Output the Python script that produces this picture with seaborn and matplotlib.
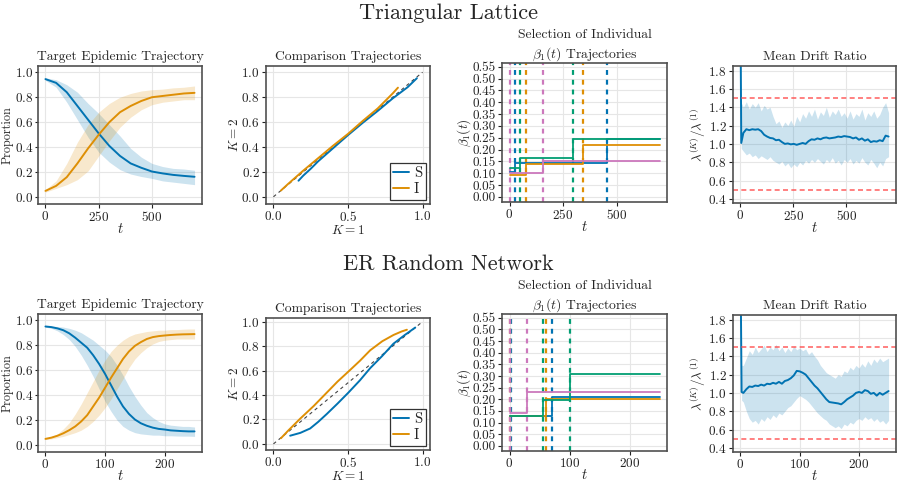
import numpy as np
import matplotlib
matplotlib.use("Agg")
import matplotlib.pyplot as plt
import seaborn as sns

# ── SETUP ─────────────────────────────────────────────────────────────────────
sns.set_theme(style="whitegrid", rc={
    "axes.edgecolor": "#505050",
    "axes.linewidth": 1.2,
    "grid.color": "#e6e6e6",
    "grid.linewidth": 0.8,
    "xtick.bottom": True,
    "ytick.left": True,
    "xtick.major.size": 3,
    "ytick.major.size": 3,
    "xtick.major.width": 0.8,
    "ytick.major.width": 0.8,
    "xtick.color": "#222222",
    "ytick.color": "#222222",
})
plt.rcParams["font.family"] = "cmr10"
plt.rcParams["mathtext.fontset"] = "cm"
plt.rcParams["axes.formatter.use_mathtext"] = True
plt.rcParams["axes.unicode_minus"] = False

pal = sns.color_palette("colorblind")
BLUE, ORANGE, GREEN, PINK = pal[0], pal[1], pal[2], pal[4]

# ── DATA: TRIANGULAR LATTICE ─────────────────────────────────────────────────
t_tri = [0, 50, 100, 150, 200, 250, 300, 350, 400, 450, 500, 550, 600, 650, 700]
S_tri = [.945, .915, .84, .73, .62, .51, .41, .33, .27, .235, .205, .19, .178, .17, .163]
S_tri_hi = [.955, .94, .90, .84, .75, .67, .58, .49, .39, .32, .27, .245, .23, .225, .215]
S_tri_lo = [.935, .88, .76, .62, .48, .36, .28, .22, .185, .165, .15, .13, .12, .11, .10]
I_tri = [.05, .09, .16, .27, .39, .50, .60, .68, .73, .77, .80, .81, .82, .83, .835]
I_tri_hi = [.06, .13, .27, .44, .58, .68, .75, .80, .83, .85, .86, .865, .875, .88, .89]
I_tri_lo = [.04, .07, .10, .14, .21, .33, .45, .56, .64, .70, .74, .76, .77, .78, .78]

cmpS_tri_x = [.168, .20, .25, .30, .40, .50, .60, .70, .80, .90, .962]
cmpS_tri_y = [.129, .17, .225, .285, .39, .495, .595, .69, .79, .88, .952]
cmpI_tri_x = [.05, .10, .20, .30, .40, .50, .60, .70, .80, .835]
cmpI_tri_y = [.05, .105, .21, .31, .41, .505, .61, .71, .83, .876]

# beta_1(t) step trajectories: change times, values, dashed change markers
beta_tri = {
    "blue":   ([0, 27, 454, 700], [0.105, 0.145, 0.243, 0.243], [27, 454]),
    "orange": ([0, 77, 341, 700], [0.092, 0.138, 0.220, 0.220], [77, 341]),
    "green":  ([0, 50, 296, 700], [0.120, 0.165, 0.245, 0.245], [50, 296]),
    "pink":   ([0, 157, 700], [0.100, 0.153, 0.153], [0, 157]),
}

td_tri = [0, 4] + list(range(14, 701, 14))
drift_tri = [2.6, 1.01,
             1.12, 1.16, 1.15, 1.16, 1.155, 1.16, 1.14, 1.10, 1.08, 1.065,
             1.06, 1.04, 1.045, 1.02, 1.00, 1.005, 0.995, 1.0, 0.99, 1.0,
             1.01, 1.0, 1.03, 1.05, 1.045, 1.06, 1.05, 1.065, 1.07, 1.06,
             1.065, 1.07, 1.08, 1.075, 1.085, 1.08, 1.075, 1.06, 1.07, 1.045,
             1.06, 1.035, 1.05, 1.02, 1.03, 1.025, 1.04, 1.03, 1.09, 1.08]
drift_tri_hi = [1.45, 1.45,
                1.40, 1.46, 1.38, 1.44, 1.40, 1.45, 1.36, 1.42, 1.38, 1.40,
                1.30, 1.22, 1.25, 1.18, 1.24, 1.20, 1.26, 1.19, 1.30, 1.24,
                1.33, 1.28, 1.36, 1.30, 1.38, 1.27, 1.35, 1.31, 1.40, 1.29,
                1.36, 1.32, 1.38, 1.30, 1.34, 1.28, 1.36, 1.27, 1.33, 1.30,
                1.38, 1.26, 1.34, 1.30, 1.36, 1.28, 1.32, 1.40, 1.45, 1.34]
drift_tri_lo = [0.95, 0.95,
                0.92, 0.88, 0.90, 0.86, 0.88, 0.84, 0.87, 0.85, 0.83, 0.86,
                0.82, 0.80, 0.78, 0.81, 0.76, 0.79, 0.74, 0.78, 0.75, 0.80,
                0.77, 0.82, 0.79, 0.83, 0.80, 0.84, 0.81, 0.78, 0.83, 0.80,
                0.85, 0.79, 0.82, 0.77, 0.83, 0.80, 0.84, 0.78, 0.82, 0.79,
                0.85, 0.80, 0.77, 0.83, 0.79, 0.74, 0.80, 0.76, 0.84, 0.86]

# ── DATA: ER RANDOM NETWORK ──────────────────────────────────────────────────
t_er = list(range(0, 251, 10))
S_er = [.95, .945, .935, .92, .895, .86, .82, .78, .72, .65, .57, .48, .39,
        .31, .25, .205, .175, .155, .14, .13, .125, .118, .115, .112, .11, .11]
S_er_hi = [.955, .952, .95, .945, .935, .92, .90, .87, .84, .80, .76, .71, .64,
           .56, .47, .39, .32, .26, .22, .19, .17, .16, .155, .15, .15, .145]
S_er_lo = [.945, .935, .915, .885, .845, .79, .72, .64, .55, .45, .35, .27, .20,
           .15, .12, .10, .09, .085, .08, .08, .075, .075, .073, .072, .072, .07]
I_er = [.05, .06, .075, .095, .12, .15, .19, .24, .31, .38, .46, .54, .615,
        .69, .75, .795, .825, .85, .865, .873, .878, .882, .885, .887, .888, .889]
I_er_hi = [.055, .07, .09, .13, .18, .25, .33, .42, .51, .60, .68, .75, .80,
           .84, .87, .89, .90, .91, .915, .92, .92, .925, .925, .928, .93, .93]
I_er_lo = [.045, .05, .06, .07, .085, .10, .12, .15, .19, .24, .30, .37, .45,
           .53, .62, .69, .74, .78, .81, .83, .84, .845, .85, .85, .85, .85]

cmpS_er_x = [.112, .18, .246, .30, .358, .43, .503, .58, .649, .73, .805, .88, .951]
cmpS_er_y = [.067, .09, .126, .18, .245, .33, .42, .52, .62, .72, .82, .89, .952]
cmpI_er_x = [.05, .10, .179, .27, .358, .43, .503, .58, .649, .73, .805, .86, .895]
cmpI_er_y = [.046, .11, .206, .31, .42, .51, .592, .68, .766, .84, .891, .92, .934]

beta_er = {
    "blue":   ([0, 70, 250], [0.130, 0.208, 0.208], [2, 70]),
    "orange": ([0, 61, 250], [0.130, 0.200, 0.200], [1, 61]),
    "green":  ([0, 56, 100, 250], [0.127, 0.198, 0.308, 0.308], [56, 100]),
    "pink":   ([0, 29, 250], [0.139, 0.233, 0.233], [1, 29]),
}

td_er = [0, 2] + list(range(5, 251, 5))
drift_er = [2.6, 1.01,
            1.0, 1.04, 1.07, 1.065, 1.08, 1.075, 1.09, 1.08, 1.10, 1.095,
            1.11, 1.10, 1.12, 1.10, 1.13, 1.14, 1.16, 1.19, 1.24, 1.235,
            1.22, 1.20, 1.16, 1.12, 1.08, 1.05, 1.01, 0.97, 0.93, 0.90,
            0.895, 0.89, 0.885, 0.875, 0.90, 0.93, 0.95, 0.97, 1.0, 1.01,
            1.0, 1.03, 1.02, 0.99, 1.0, 0.97, 1.0, 0.98, 1.0, 1.02]
drift_er_hi = [1.30, 1.30,
               1.30, 1.38, 1.46, 1.42, 1.50, 1.44, 1.48, 1.52, 1.45, 1.50,
               1.47, 1.53, 1.46, 1.50, 1.44, 1.49, 1.45, 1.51, 1.47, 1.49,
               1.46, 1.48, 1.42, 1.45, 1.40, 1.36, 1.30, 1.26, 1.22, 1.20,
               1.18, 1.16, 1.20, 1.18, 1.24, 1.22, 1.28, 1.25, 1.30, 1.27,
               1.32, 1.28, 1.35, 1.30, 1.37, 1.33, 1.38, 1.34, 1.36, 1.38]
drift_er_lo = [0.92, 0.92,
               0.90, 0.80, 0.72, 0.68, 0.70, 0.66, 0.72, 0.69, 0.74, 0.71,
               0.76, 0.73, 0.78, 0.76, 0.80, 0.84, 0.86, 0.90, 0.94, 0.97,
               0.95, 0.93, 0.90, 0.86, 0.82, 0.78, 0.75, 0.72, 0.70, 0.66,
               0.64, 0.62, 0.64, 0.61, 0.66, 0.64, 0.68, 0.66, 0.70, 0.72,
               0.70, 0.74, 0.71, 0.73, 0.69, 0.72, 0.68, 0.70, 0.66, 0.70]

colors = {"blue": BLUE, "orange": ORANGE, "green": GREEN, "pink": PINK}

TITLE_FS = 9.8
LABEL_FS = 9.5
TICK_FS = 9.5


# ── PANEL HELPERS ─────────────────────────────────────────────────────────────
def style_ax(ax, xpad=-1.5):
    ax.tick_params(labelsize=TICK_FS, pad=1.5)
    ax.xaxis.labelpad = xpad
    ax.yaxis.labelpad = 0
    for s in ax.spines.values():
        s.set_visible(True)


def panel_target(ax, t, S, Slo, Shi, I, Ilo, Ihi, xlim, xticks):
    ax.fill_between(t, Slo, Shi, color=BLUE, alpha=0.2, lw=0)
    ax.fill_between(t, Ilo, Ihi, color=ORANGE, alpha=0.2, lw=0)
    sns.lineplot(x=t, y=S, ax=ax, color=BLUE, lw=1.4)
    sns.lineplot(x=t, y=I, ax=ax, color=ORANGE, lw=1.4)
    ax.set_xlim(*xlim)
    ax.set_ylim(-0.055, 1.05)
    ax.set_xticks(xticks)
    ax.set_yticks([0, 0.2, 0.4, 0.6, 0.8, 1.0])
    ax.set_title("Target Epidemic Trajectory", fontsize=TITLE_FS, pad=4)
    ax.set_xlabel("$t$", fontsize=LABEL_FS + 1)
    ax.set_ylabel("Proportion", fontsize=8.8)
    style_ax(ax)
    # narrow left margin: tighter y ticks, label pinned just inside the canvas
    ax.tick_params(axis="y", pad=1, length=2.5)
    ax.yaxis.set_label_coords(-0.148, 0.5)


def panel_compare(ax, sx, sy, ix, iy, ylim):
    ax.plot([0, 1], [0, 1], ls=(0, (3, 3)), color="#444444", lw=0.8)
    sns.lineplot(x=sx, y=sy, ax=ax, color=BLUE, lw=1.4, label="S", sort=False)
    sns.lineplot(x=ix, y=iy, ax=ax, color=ORANGE, lw=1.4, label="I", sort=False)
    ax.set_xlim(-0.05, 1.05)
    ax.set_ylim(*ylim)
    ax.set_xticks([0, 0.5, 1.0])
    ax.set_yticks([0, 0.2, 0.4, 0.6, 0.8, 1.0])
    ax.set_title("Comparison Trajectories", fontsize=TITLE_FS, pad=4)
    ax.set_xlabel("$K=1$", fontsize=LABEL_FS)
    ax.set_ylabel("$K=2$", fontsize=LABEL_FS)
    leg = ax.legend(loc="lower right", fontsize=10.5, fancybox=False, framealpha=1,
                    handlelength=1.1, handletextpad=0.3, borderpad=0.25,
                    borderaxespad=0.3, labelspacing=0.15)
    leg.get_frame().set_edgecolor("#333333")
    leg.get_frame().set_linewidth(0.9)
    style_ax(ax, xpad=0)


def panel_beta(ax, beta, xlim, xticks):
    for name, (ts, vs, marks) in beta.items():
        for m in marks:
            ax.axvline(m, color=colors[name], ls=(0, (2.2, 2.2)), lw=1.6)
    for name, (ts, vs, marks) in beta.items():
        sns.lineplot(x=ts, y=vs, ax=ax, color=colors[name], lw=1.3,
                     drawstyle="steps-post")
    ax.set_xlim(*xlim)
    ax.set_ylim(-0.022, 0.566)
    ax.set_xticks(xticks)
    ax.set_yticks(np.arange(0, 0.551, 0.05))
    ax.set_yticklabels([f"{v:.2f}" for v in np.arange(0, 0.551, 0.05)])
    ax.set_title("Selection of Individual\n" + r"$\beta_1(t)$ Trajectories",
                 fontsize=TITLE_FS, pad=4, linespacing=1.3)
    ax.set_xlabel("$t$", fontsize=LABEL_FS + 1)
    ax.set_ylabel(r"$\beta_1(t)$", fontsize=LABEL_FS)
    style_ax(ax)


def panel_drift(ax, t, m, lo, hi, xlim, xticks):
    ax.fill_between(t[1:], lo[1:], hi[1:], color=BLUE, alpha=0.2, lw=0)
    sns.lineplot(x=t, y=m, ax=ax, color=BLUE, lw=1.4)
    ax.axhline(1.5, color="#ff5050", ls=(0, (3, 2)), lw=1.2, alpha=0.85)
    ax.axhline(0.5, color="#ff5050", ls=(0, (3, 2)), lw=1.2, alpha=0.85)
    ax.set_xlim(*xlim)
    ax.set_ylim(0.355, 1.85)
    ax.set_xticks(xticks)
    ax.set_yticks([0.4, 0.6, 0.8, 1.0, 1.2, 1.4, 1.6, 1.8])
    ax.set_title("Mean Drift Ratio", fontsize=TITLE_FS, pad=4)
    ax.set_xlabel("$t$", fontsize=LABEL_FS + 1)
    ax.set_ylabel(r"$\lambda^{(K)}/\lambda^{(1)}$", fontsize=LABEL_FS)
    style_ax(ax)


# ── FIGURE ────────────────────────────────────────────────────────────────────
fig = plt.figure(figsize=(8.97, 4.83), dpi=100)
W, H = 897, 483


def rect(x0, x1, y0, y1):
    return [x0 / W, (H - y1) / H, (x1 - x0) / W, (y1 - y0) / H]


# Row 1
a1 = fig.add_axes(rect(38, 202, 66, 204))
a2 = fig.add_axes(rect(266, 430, 66, 204))
a3 = fig.add_axes(rect(502, 667, 63, 202))
a4 = fig.add_axes(rect(733, 896, 66, 203))
# Row 2
b1 = fig.add_axes(rect(38, 202, 314, 452))
b2 = fig.add_axes(rect(266, 430, 318, 450))
b3 = fig.add_axes(rect(502, 667, 314, 451))
b4 = fig.add_axes(rect(733, 896, 315, 452))

xl_tri, xt_tri = (-35, 735), [0, 250, 500]
xl_er, xt_er = (-12.5, 262.5), [0, 100, 200]

panel_target(a1, t_tri, S_tri, S_tri_lo, S_tri_hi, I_tri, I_tri_lo, I_tri_hi,
             xl_tri, xt_tri)
panel_compare(a2, cmpS_tri_x, cmpS_tri_y, cmpI_tri_x, cmpI_tri_y, (-0.058, 1.05))
panel_beta(a3, beta_tri, xl_tri, xt_tri)
panel_drift(a4, td_tri, drift_tri, drift_tri_lo, drift_tri_hi, xl_tri, xt_tri)

panel_target(b1, t_er, S_er, S_er_lo, S_er_hi, I_er, I_er_lo, I_er_hi,
             xl_er, xt_er)
panel_compare(b2, cmpS_er_x, cmpS_er_y, cmpI_er_x, cmpI_er_y, (-0.05, 1.03))
panel_beta(b3, beta_er, xl_er, xt_er)
panel_drift(b4, td_er, drift_er, drift_er_lo, drift_er_hi, xl_er, xt_er)

fig.text(0.5, 1 - 13 / H, "Triangular Lattice", ha="center", va="center", fontsize=16)
fig.text(0.5, 1 - 264 / H, "ER Random Network", ha="center", va="center", fontsize=16)

fig.savefig("out.png", dpi=100)
